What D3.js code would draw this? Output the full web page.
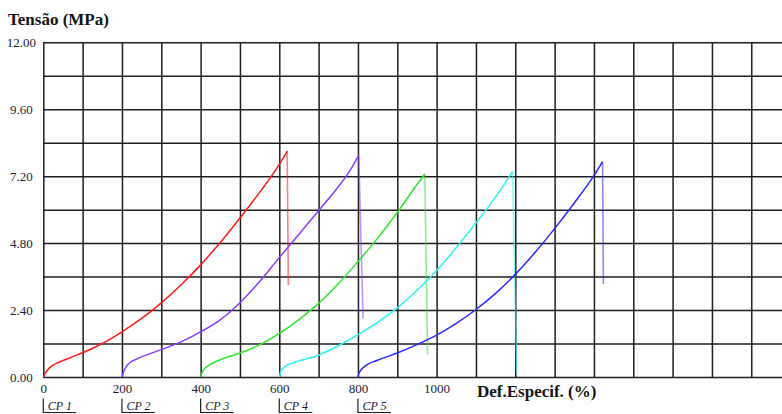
<!DOCTYPE html>
<html>
<head>
<meta charset="utf-8">
<script src="https://cdn.jsdelivr.net/npm/d3@7"></script>
<style>
  html, body { margin: 0; padding: 0; background: #fff; }
  svg { display: block; }
  text { font-family: "Liberation Serif", "Times New Roman", serif; }
</style>
</head>
<body>
<svg id="chart" width="782" height="414"></svg>
<script>
// Specimens (staggered along the strain axis)
const specimens = ["CP 1", "CP 2", "CP 3", "CP 4", "CP 5"];
const specimenStart = [0, 200, 400, 600, 800];
const colors = ["#ff1a1a", "#8a3cff", "#2ee62e", "#2ef2f2", "#2a2aff"];

// Strain (%) and stress (MPa) along each rising curve
const strainCP1 = [0, 8, 20, 40, 70, 100, 150, 200, 250, 300, 350, 400, 450, 500, 550, 600, 620];
const stressCP1 = [0, 0.2, 0.38, 0.53, 0.7, 0.87, 1.2, 1.62, 2.1, 2.66, 3.3, 4.02, 4.82, 5.7, 6.62, 7.62, 8.1];
const strainCP2 = [200, 206, 215, 240, 270, 300, 350, 400, 450, 500, 550, 600, 650, 700, 750, 775, 802];
const stressCP2 = [0, 0.25, 0.45, 0.66, 0.83, 0.98, 1.26, 1.62, 2.05, 2.66, 3.42, 4.28, 5.12, 5.96, 6.82, 7.3, 7.95];
const strainCP3 = [400, 405, 419, 450, 500, 550, 600, 650, 700, 750, 800, 850, 900, 950, 970];
const stressCP3 = [0, 0.2, 0.4, 0.62, 0.86, 1.15, 1.56, 2.06, 2.64, 3.34, 4.14, 4.98, 5.9, 6.9, 7.28];
const strainCP4 = [600, 604, 615, 640, 700, 750, 800, 850, 900, 950, 1000, 1050, 1100, 1150, 1193];
const stressCP4 = [0, 0.2, 0.38, 0.53, 0.78, 1.12, 1.52, 1.96, 2.48, 3.1, 3.82, 4.64, 5.52, 6.46, 7.36];
const strainCP5 = [800, 803, 817, 850, 900, 950, 1000, 1050, 1100, 1150, 1200, 1250, 1300, 1350, 1400, 1422];
const stressCP5 = [0, 0.15, 0.38, 0.6, 0.86, 1.16, 1.5, 1.92, 2.42, 3.0, 3.68, 4.46, 5.32, 6.24, 7.22, 7.72];

// Point where each specimen breaks after the peak
const breakStrain = [623, 813, 977, 1204, 1424];
const breakStress = [3.3, 2.1, 0.8, 0.1, 3.33];

// Axis ticks
const yLabelTicks = [0, 2.4, 4.8, 7.2, 9.6, 12];
const yGridTicks = [0, 1.2, 2.4, 3.6, 4.8, 6.0, 7.2, 8.4, 9.6, 10.8, 12];
const xLabelTicks = [0, 200, 400, 600, 800, 1000];
const xGridTicks = d3.range(0, 1901, 100);

const strains = [strainCP1, strainCP2, strainCP3, strainCP4, strainCP5];
const stresses = [stressCP1, stressCP2, stressCP3, stressCP4, stressCP5];

const svg = d3.select("#chart");
const x = d3.scaleLinear().domain([0, 1900]).range([43.3, 790.6]);
const y = d3.scaleLinear().domain([0, 12]).range([377, 42.3]);

svg.append("rect").attr("width", 782).attr("height", 414).attr("fill", "#fff");

// Grid
const grid = svg.append("g");
grid.append("g")
  .attr("transform", `translate(0,${y(0)})`)
  .call(d3.axisBottom(x).tickValues(xGridTicks).tickSize(y(12) - y(0)).tickFormat(""))
  .call(g => g.select(".domain").remove())
  .call(g => g.selectAll("line").attr("stroke", "#1e1e1e").attr("stroke-width", 1.5));
grid.append("g")
  .attr("transform", `translate(${x(0)},0)`)
  .call(d3.axisLeft(y).tickValues(yGridTicks).tickSize(-(x(1900) - x(0))).tickFormat(""))
  .call(g => g.select(".domain").remove())
  .call(g => g.selectAll("line").attr("stroke", "#1e1e1e").attr("stroke-width", 1.5));

// Y labels
svg.append("g")
  .attr("transform", `translate(${x(0)},0)`)
  .call(d3.axisLeft(y).tickValues(yLabelTicks).tickSize(0).tickFormat(d3.format(".2f")))
  .call(g => g.select(".domain").remove())
  .call(g => g.selectAll("text")
    .attr("x", -22).attr("text-anchor", "middle").attr("dy", "0.33em")
    .attr("fill", "#1c1c34").style("font-size", "13px")
    .style("font-family", "'Liberation Serif', serif"));

// X labels
svg.append("g")
  .attr("transform", `translate(0,${y(0)})`)
  .call(d3.axisBottom(x).tickValues(xLabelTicks).tickSize(0).tickFormat(d3.format("d")))
  .call(g => g.select(".domain").remove())
  .call(g => g.selectAll("text")
    .attr("y", 16).attr("dy", 0)
    .attr("fill", "#1c1c34").style("font-size", "13px")
    .style("font-family", "'Liberation Serif', serif"));

// Axis titles
svg.append("text").attr("x", 8).attr("y", 25)
  .attr("font-weight", "bold").attr("font-size", 17).attr("fill", "#141414")
  .text("Tensão (MPa)");
svg.append("text").attr("x", 477).attr("y", 397)
  .attr("font-weight", "bold").attr("font-size", 17).attr("fill", "#141414")
  .text("Def.Especif. (%)");

// Curves
const line = d3.line().x(d => x(d[0])).y(d => y(d[1])).curve(d3.curveMonotoneX);
specimens.forEach((name, i) => {
  const pts = strains[i].map((s, k) => [s, stresses[i][k]]);
  svg.append("path")
    .datum(pts)
    .attr("d", line)
    .attr("fill", "none")
    .attr("stroke", colors[i])
    .attr("stroke-width", 1.5)
    .attr("stroke-linejoin", "round");
  const peak = pts[pts.length - 1];
  svg.append("line")
    .attr("x1", x(peak[0])).attr("y1", y(peak[1]))
    .attr("x2", x(breakStrain[i])).attr("y2", y(breakStress[i]))
    .attr("stroke", colors[i])
    .attr("stroke-opacity", 0.55)
    .attr("stroke-width", 1.6);
});

// Specimen legend brackets
const legend = svg.append("g");
specimens.forEach((name, i) => {
  const x0 = x(specimenStart[i]);
  legend.append("path")
    .attr("d", `M${x0},398.5V412.5H${x0 + 33}`)
    .attr("fill", "none").attr("stroke", "#1e1e1e").attr("stroke-width", 1.2);
  legend.append("text")
    .attr("x", x0 + 4.5).attr("y", 409.5)
    .attr("font-style", "italic").attr("font-size", 12).attr("fill", "#1c1c34")
    .text(name);
});
</script>
</body>
</html>
